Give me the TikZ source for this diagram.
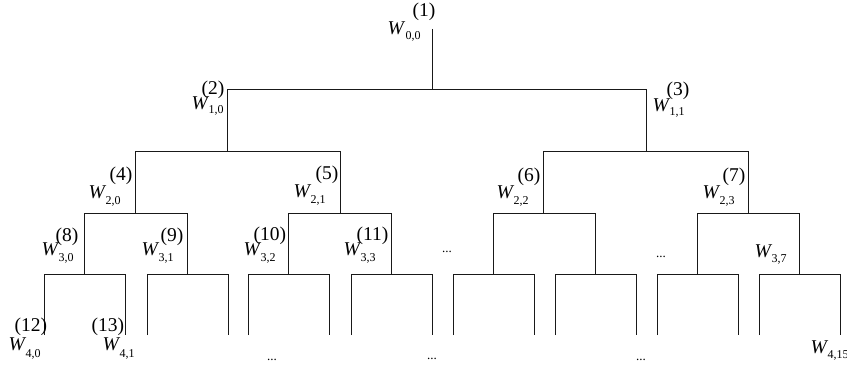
\documentclass[tikz,border=0pt]{standalone}
\usepackage{fontspec}
\setmainfont{Liberation Serif}
\tikzset{
  br/.style={line width=1pt, draw=black!90, line join=miter},
  lab/.style={anchor=base west, inner sep=0pt, font=\fontsize{19.5}{19.5}\selectfont},
  dotsnode/.style={anchor=base, inner sep=0pt, font=\fontsize{13}{13}\selectfont},
}
% #1 sub, #2 sub dx, #3 sub drop, #4 sup, #5 sup dx, #6 sup raise
\newcommand\wl[6]{\rlap{\itshape W}\rlap{\hspace{#2pt}\raisebox{-#3pt}{\fontsize{12}{12}\selectfont #1}}\rlap{\hspace{#5pt}\raisebox{#6pt}{#4}}}
\begin{document}
\begin{tikzpicture}[x=1pt,y=-1pt]
\path[use as bounding box] (0,0) rectangle (847,369);
% tree points
\coordinate (r) at (432,29);
\coordinate (a) at (227,90);
\coordinate (b) at (646,90);
\coordinate (c0) at (135,151);
\coordinate (c1) at (340,151);
\coordinate (c2) at (543,151);
\coordinate (c3) at (748,151);
\foreach \x [count=\i from 0] in {84,187,288,391,493,595,697,799} {
  \coordinate (d\i) at (\x,213);
  \coordinate (eL\i) at (\x-40,274);
  \coordinate (eR\i) at (\x+41,274);
  \coordinate (fL\i) at (\x-40,335);
  \coordinate (fR\i) at (\x+41,335);
}
% connectors
\draw[br] (r) -- (r |- a);
\draw[br] (a |- c0) -- (a) -- (b) -- (b |- c2);
\draw[br] (c0 |- d0) -- (c0) -- (c1) -- (c1 |- d2);
\draw[br] (c2 |- d4) -- (c2) -- (c3) -- (c3 |- d6);
\foreach \i/\j in {0/1,2/3,4/5,6/7} {
  \draw[br] (d\i |- eL\i) -- (d\i) -- (d\j) -- (d\j |- eL\j);
}
\foreach \i in {0,...,7} {
  \draw[br] (fL\i) -- (eL\i) -- (eR\i) -- (fR\i);
}
% labels
\node[lab] (w1) at (387,35) {\wl{0,0}{18}{5}{(1)}{25}{18}};
\node[lab] (w2) at (191,110) {\wl{1,0}{17}{4}{(2)}{10}{15}};
\node[lab] (w3) at (652,111) {\wl{1,1}{17}{4}{(3)}{14}{16}};
\node[lab] (w4) at (88,198) {\wl{2,0}{17}{6}{(4)}{21}{18}};
\node[lab] (w5) at (293,197) {\wl{2,1}{17}{6}{(5)}{22}{18}};
\node[lab] (w6) at (496,198) {\wl{2,2}{17}{6}{(6)}{21}{17}};
\node[lab] (w7) at (702,198) {\wl{2,3}{17}{6}{(7)}{20}{17}};
\node[lab] (w8) at (41,255) {\wl{3,0}{17}{6}{(8)}{14}{14}};
\node[lab] (w9) at (141,255) {\wl{3,1}{17}{6}{(9)}{19}{14}};
\node[lab] (w10) at (243,255) {\wl{3,2}{17}{6}{(10)}{10}{15}};
\node[lab] (w11) at (343,255) {\wl{3,3}{17}{6}{(11)}{13}{15}};
\node[lab] (w37) at (754,257) {\wl{3,7}{17}{5}{}{0}{0}};
\node[lab] (w12) at (8,350) {\wl{4,0}{17}{7}{(12)}{6}{19}};
\node[lab] (w13) at (102,350) {\wl{4,1}{17}{7}{(13)}{-11}{19}};
\node[lab] (w415) at (810,353) {\wl{4,15}{17}{5}{}{0}{0}};
% dots
\node[dotsnode] (z1) at (447,252) {...};
\node[dotsnode] (z2) at (661,257) {...};
\node[dotsnode] (z3) at (272,360) {...};
\node[dotsnode] (z4) at (432,359) {...};
\node[dotsnode] (z5) at (641,360) {...};
\end{tikzpicture}
\end{document}
